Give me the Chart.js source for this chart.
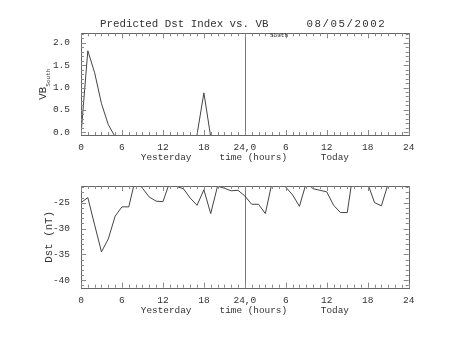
<!DOCTYPE html>
<html>
<head>
<meta charset="utf-8">
<script src="https://cdn.jsdelivr.net/npm/chart.js@4.4.1/dist/chart.umd.min.js"></script>
<style>
  html, body { margin: 0; padding: 0; background: #fff; }
  #wrap { position: relative; width: 453px; height: 340px; }
  canvas { position: absolute; left: 0; }
</style>
</head>
<body>
<div id="wrap">
  <canvas id="vbChart" width="453" height="170" style="top:0"></canvas>
  <canvas id="dstChart" width="453" height="170" style="top:170px"></canvas>
</div>
<script>
// hours since start of yesterday (0-24 yesterday, 24-48 today)
const hours = [0, 1, 2, 3, 4, 5, 6, 7, 8, 9, 10, 11, 12, 13, 14, 15, 16, 17, 18, 19, 20, 21, 22, 23, 24,
               25, 26, 27, 28, 29, 30, 31, 32, 33, 34, 35, 36, 37, 38, 39, 40, 41, 42, 43, 44, 45, 46, 47, 48];

// values below the axis floor are clipped, like in the original plot
const vbSouth = [-0.05, 1.82, 1.33, 0.64, 0.17, -0.1, -0.5, -0.5, -0.5, -0.5, -0.5, -0.5, -0.5, -0.5, -0.5, -0.5, -0.5,
                 -0.05, 0.88, -0.1, -0.5, -0.5, -0.5, -0.5, -0.5, -0.5, -0.5, -0.5, -0.5, -0.5, -0.5, -0.5, -0.5,
                 -0.5, -0.5, -0.5, -0.5, -0.5, -0.5, -0.5, -0.5, -0.5, -0.5, -0.5, -0.5, -0.5, -0.5, -0.5, -0.5];

// values above the axis top are clipped too
const dst = [-25.0, -24.0, -29.3, -34.5, -32.0, -27.6, -25.8, -25.8, -20.2, -22.2, -23.9, -24.7, -24.8,
             -21.0, -21.85, -22.3, -24.1, -25.5, -22.5, -27.1, -21.8, -22.2, -22.7, -22.6, -23.7,
             -25.3, -25.3, -27.1, -21.0, -19.7, -22.0, -23.5, -25.7, -21.1, -22.3, -22.6, -22.9, -25.5,
             -26.9, -26.9, -18.0, -18.0, -21.3, -25.0, -25.6, -21.3, -20.0, -20.0, -20.0];

const xTickValues = [0, 6, 12, 18, 24, 30, 36, 42, 48];
const xTickLabels = ['0', '6', '12', '18', '24,0', '6', '12', '18', '24'];
const vbTicks = [0, 0.5, 1, 1.5, 2];
const vbTickLabels = ['0.0', '0.5', '1.0', '1.5', '2.0'];
const dstTicks = [-40, -35, -30, -25];
const dstTickLabels = ['-40', '-35', '-30', '-25'];
const dayBoundary = 24;
const xTitle = 'Yesterday     time (hours)      Today';

Chart.defaults.font.family = "'Liberation Mono', 'DejaVu Sans Mono', monospace";
Chart.defaults.color = '#333';

const INK = '#333';

// box, inward ticks and the midnight line
const frame = {
  id: 'frame',
  beforeDatasetsDraw(chart) {
    const { ctx, chartArea: a, scales: { x } } = chart;
    const px = Math.round(x.getPixelForValue(dayBoundary)) + 0.5;
    ctx.save();
    ctx.strokeStyle = '#777';
    ctx.lineWidth = 1;
    ctx.beginPath();
    ctx.moveTo(px, a.top);
    ctx.lineTo(px, a.bottom);
    ctx.stroke();
    ctx.restore();
  },
  afterDraw(chart, args, opts) {
    const { ctx, chartArea: a, scales: { x, y } } = chart;
    ctx.save();
    ctx.strokeStyle = '#666';
    ctx.lineWidth = 1;
    ctx.strokeRect(Math.round(a.left) + 0.5, Math.round(a.top) + 0.5,
                   Math.round(a.right - a.left), Math.round(a.bottom - a.top));
    ctx.strokeStyle = '#888';
    ctx.beginPath();
    for (let h = 0; h <= 48; h++) {
      const len = h % 6 === 0 ? 5 : 3;
      const px = Math.round(x.getPixelForValue(h)) + 0.5;
      ctx.moveTo(px, a.bottom); ctx.lineTo(px, a.bottom - len);
      ctx.moveTo(px, a.top); ctx.lineTo(px, a.top + len);
    }
    const step = opts.minor, major = opts.major;
    for (let i = Math.ceil(y.min / step); i * step <= y.max + 1e-9; i++) {
      const v = i * step;
      const r = v / major;
      const len = Math.abs(r - Math.round(r)) < 1e-6 ? 5 : 3;
      const py = Math.round(y.getPixelForValue(v)) + 0.5;
      ctx.moveTo(a.left, py); ctx.lineTo(a.left + len, py);
      ctx.moveTo(a.right, py); ctx.lineTo(a.right - len, py);
    }
    ctx.stroke();
    ctx.restore();
  }
};

// title and y title with the "South" subscript
const vbText = {
  id: 'vbText',
  afterDraw(chart) {
    const { ctx, chartArea: a } = chart;
    ctx.save();
    ctx.fillStyle = INK;
    ctx.textBaseline = 'alphabetic';
    ctx.textAlign = 'left';
    ctx.font = "10.8px 'Liberation Mono'";
    ctx.fillText('Predicted Dst Index vs. VB', 100, 26.7);
    ctx.letterSpacing = '1.5px';
    ctx.fillText('08/05/2002', 306.5, 26.7);
    ctx.letterSpacing = '0px';
    ctx.font = "6px 'Liberation Mono'";
    ctx.fillText('South', 270, 36.5);

    ctx.translate(46, (a.top + a.bottom) / 2);
    ctx.rotate(-Math.PI / 2);
    ctx.font = "10.8px 'Liberation Mono'";
    const w1 = ctx.measureText('VB').width;
    ctx.font = "6px 'Liberation Mono'";
    const w2 = ctx.measureText('South').width;
    const start = -(w1 + w2) / 2;
    ctx.font = "10.8px 'Liberation Mono'";
    ctx.fillText('VB', start, 0);
    ctx.font = "6px 'Liberation Mono'";
    ctx.fillText('South', start + w1, 4);
    ctx.restore();
  }
};

function xScale() {
  return {
    type: 'linear',
    min: 0,
    max: 48,
    grid: { display: false },
    border: { display: false },
    afterBuildTicks: s => { s.ticks = xTickValues.map(v => ({ value: v })); },
    afterFit: s => { s.height = 35; },
    ticks: {
      padding: -1,
      maxRotation: 0,
      autoSkip: false,
      color: INK,
      font: { size: 9.5 },
      callback: (v, i) => xTickLabels[i]
    },
    title: {
      display: true,
      text: xTitle,
      color: INK,
      font: { size: 9.4 },
      padding: { top: 0, bottom: 7 }
    }
  };
}

new Chart(document.getElementById('vbChart'), {
  type: 'line',
  data: {
    datasets: [{
      data: hours.map((h, i) => ({ x: h, y: vbSouth[i] })),
      borderColor: '#444',
      borderWidth: 1,
      pointRadius: 0,
      tension: 0
    }]
  },
  options: {
    responsive: false,
    animation: false,
    layout: { padding: { top: 33.3, right: 44.3, left: 0, bottom: 0 } },
    plugins: {
      legend: { display: false },
      tooltip: { enabled: false },
      frame: { minor: 0.1, major: 0.5 }
    },
    scales: {
      x: xScale(),
      y: {
        min: -0.06,
        max: 2.21,
        grid: { display: false },
        border: { display: false },
        afterBuildTicks: s => { s.ticks = vbTicks.map(v => ({ value: v })); },
        afterFit: s => { s.width = 81; },
        ticks: {
          padding: 3,
          color: INK,
          font: { size: 9.5 },
          callback: (v, i) => vbTickLabels[i]
        }
      }
    }
  },
  plugins: [frame, vbText]
});

new Chart(document.getElementById('dstChart'), {
  type: 'line',
  data: {
    datasets: [{
      data: hours.map((h, i) => ({ x: h, y: dst[i] })),
      borderColor: '#444',
      borderWidth: 1,
      pointRadius: 0,
      tension: 0
    }]
  },
  options: {
    responsive: false,
    animation: false,
    layout: { padding: { top: 16, right: 44.3, left: 0, bottom: 17.3 } },
    plugins: {
      legend: { display: false },
      tooltip: { enabled: false },
      frame: { minor: 1, major: 5 }
    },
    scales: {
      x: xScale(),
      y: {
        min: -41.43,
        max: -21.77,
        grid: { display: false },
        border: { display: false },
        afterBuildTicks: s => { s.ticks = dstTicks.map(v => ({ value: v })); },
        afterFit: s => { s.width = 81; },
        ticks: {
          padding: 3,
          color: INK,
          font: { size: 9.5 },
          callback: (v, i) => dstTickLabels[i]
        },
        title: {
          display: true,
          text: 'Dst (nT)',
          color: INK,
          font: { size: 10.8 },
          padding: { top: 42.5, bottom: 0 }
        }
      }
    }
  },
  plugins: [frame]
});
</script>
</body>
</html>
